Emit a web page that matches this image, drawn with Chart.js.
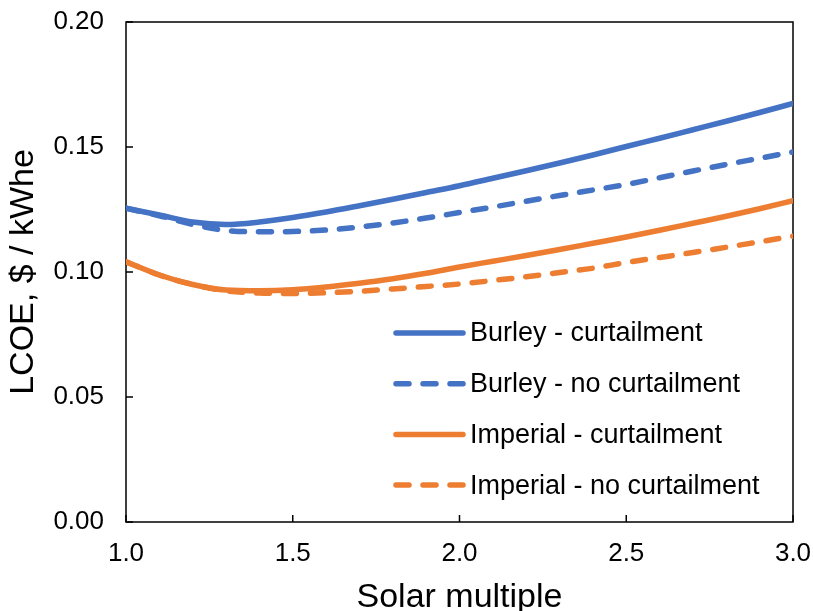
<!DOCTYPE html>
<html>
<head>
<meta charset="utf-8">
<title>LCOE vs solar multiple</title>
<script src="https://cdn.jsdelivr.net/npm/chart.js@4.4.1/dist/chart.umd.min.js"></script>
<style>
  html, body { margin: 0; padding: 0; background: #fff; }
  #wrap { width: 813px; height: 611px; }
</style>
</head>
<body>
<div id="wrap"><canvas id="lcoeChart" width="813" height="611"></canvas></div>
<script>
// ------------------- Data ------------------- //

const solarMultiple = [1.0, 1.1, 1.2, 1.3, 1.4, 1.5, 1.6, 1.7, 1.8, 1.9, 2.0,
  2.1, 2.2, 2.3, 2.4, 2.5, 2.6, 2.7, 2.8, 2.9, 3.0];

const burleyCurtail = [0.1255, 0.1228, 0.1200, 0.1190, 0.1200, 0.1218, 0.1240,
  0.1265, 0.1291, 0.1318, 0.1345, 0.1375, 0.1405, 0.1436, 0.1468, 0.1502,
  0.1535, 0.1569, 0.1603, 0.1638, 0.1674];

const burleyNoCurtail = [0.1255, 0.1225, 0.1190, 0.1166, 0.1161, 0.1162, 0.1168,
  0.1180, 0.1196, 0.1216, 0.1238, 0.1260, 0.1283, 0.1306, 0.1328, 0.1350,
  0.1377, 0.1404, 0.1430, 0.1455, 0.1480];

const imperialCurtail = [0.1041, 0.0988, 0.0950, 0.0928, 0.0925, 0.0929, 0.0940,
  0.0955, 0.0973, 0.0995, 0.1020, 0.1043, 0.1066, 0.1090, 0.1115, 0.1140,
  0.1167, 0.1195, 0.1223, 0.1253, 0.1285];

const imperialNoCurtail = [0.1041, 0.0988, 0.0950, 0.0925, 0.0916, 0.0914, 0.0917,
  0.0923, 0.0932, 0.0942, 0.0952, 0.0966, 0.0981, 0.0998, 0.1015, 0.1038,
  0.1058, 0.1078, 0.1099, 0.1121, 0.1143];

const seriesLabels = [
  "Burley - curtailment",
  "Burley - no curtailment",
  "Imperial - curtailment",
  "Imperial - no curtailment",
];

const xTicks = [1.0, 1.5, 2.0, 2.5, 3.0];
const yTicks = [0.00, 0.05, 0.10, 0.15, 0.20];

// ------------------- Styling ------------------- //

const BLUE = "#4472C4";
const ORANGE = "#ED7D31";
const DASH = [13, 14];
const FONT = "'Liberation Sans', Arial, sans-serif";

Chart.defaults.font.family = FONT;
Chart.defaults.color = "#000";

// Build {x, y} points from the x array and a series
function toPoints(values) {
  return solarMultiple.map((x, i) => ({ x: x, y: values[i] }));
}

function makeDataset(label, values, color, dashed) {
  return {
    label: label,
    data: toPoints(values),
    borderColor: color,
    backgroundColor: color,
    borderWidth: 5.5,
    borderDash: dashed ? DASH : [],
    borderCapStyle: "round",
    borderJoinStyle: "round",
    pointRadius: 0,
    cubicInterpolationMode: "monotone",
    fill: false,
  };
}

// Fixed scale size, and no extra label overhang padding
function fixSize(prop, size) {
  return (s) => {
    s[prop] = size;
    s.paddingTop = 0;
    s.paddingBottom = 0;
    s.paddingLeft = 0;
    s.paddingRight = 0;
  };
}

// ------------------- Plugins ------------------- //

// Frame around the plot area plus tick marks pointing inward
const framePlugin = {
  id: "frame",
  beforeDatasetsDraw(chart) {
    const { ctx, chartArea: a, scales } = chart;
    ctx.save();
    ctx.strokeStyle = "#000";
    ctx.lineWidth = 1.5;
    ctx.strokeRect(a.left, a.top, a.right - a.left, a.bottom - a.top);

    ctx.beginPath();
    yTicks.forEach((v) => {
      const y = scales.y.getPixelForValue(v);
      ctx.moveTo(a.left, y);
      ctx.lineTo(a.left + 7, y);
    });
    xTicks.forEach((v) => {
      const x = scales.x.getPixelForValue(v);
      ctx.moveTo(x, a.bottom);
      ctx.lineTo(x, a.bottom - 7);
    });
    ctx.stroke();
    ctx.restore();
  },
};

// Legend inside the plot, one row per dataset
const insideLegend = {
  id: "insideLegend",
  afterDatasetsDraw(chart) {
    const { ctx, chartArea: a } = chart;
    const x0 = a.left + 270;
    const lineLen = 67;
    const rowTop = a.top + 311;
    const rowGap = 50.7;

    ctx.save();
    ctx.font = "27px " + FONT;
    ctx.textBaseline = "middle";
    ctx.textAlign = "left";
    chart.data.datasets.forEach((ds, i) => {
      const y = rowTop + i * rowGap;
      ctx.strokeStyle = ds.borderColor;
      ctx.lineWidth = ds.borderWidth;
      ctx.lineCap = "round";
      ctx.setLineDash(ds.borderDash);
      ctx.beginPath();
      ctx.moveTo(x0, y);
      ctx.lineTo(x0 + lineLen, y);
      ctx.stroke();
      ctx.setLineDash([]);
      ctx.fillStyle = "#000";
      ctx.fillText(ds.label, x0 + lineLen + 7, y + 1);
    });
    ctx.restore();
  },
};

// ------------------- Chart ------------------- //

function renderChart() {
  const ctx = document.getElementById("lcoeChart").getContext("2d");

  new Chart(ctx, {
    type: "line",
    data: {
      datasets: [
        makeDataset(seriesLabels[0], burleyCurtail, BLUE, false),
        makeDataset(seriesLabels[1], burleyNoCurtail, BLUE, true),
        makeDataset(seriesLabels[2], imperialCurtail, ORANGE, false),
        makeDataset(seriesLabels[3], imperialNoCurtail, ORANGE, true),
      ],
    },
    options: {
      responsive: false,
      animation: false,
      devicePixelRatio: 1,
      layout: { padding: { left: 0, top: 22, right: 20, bottom: 0 } },
      plugins: {
        legend: { display: false },
        tooltip: { enabled: false },
      },
      scales: {
        x: {
          type: "linear",
          min: 1,
          max: 3,
          afterBuildTicks: (s) => { s.ticks = xTicks.map((v) => ({ value: v })); },
          afterFit: fixSize("height", 89),
          grid: { display: false, drawTicks: false },
          border: { display: false },
          ticks: {
            padding: 16,
            font: { size: 26 },
            callback: (v) => Number(v).toFixed(1),
          },
          title: {
            display: true,
            text: "Solar multiple",
            font: { size: 34, lineHeight: 0.8 },
            padding: { top: 0, bottom: 0 },
          },
        },
        y: {
          min: 0,
          max: 0.2,
          afterBuildTicks: (s) => { s.ticks = yTicks.map((v) => ({ value: v })); },
          afterFit: fixSize("width", 126),
          grid: { display: false, drawTicks: false },
          border: { display: false },
          ticks: {
            padding: 22,
            font: { size: 26 },
            callback: (v) => Number(v).toFixed(2),
          },
          title: {
            display: true,
            text: "LCOE, $ / kWhe",
            font: { size: 34, lineHeight: 1 },
            padding: { top: 7, bottom: 0 },
          },
        },
      },
    },
    plugins: [framePlugin, insideLegend],
  });
}

document.addEventListener("DOMContentLoaded", renderChart);
</script>
</body>
</html>
